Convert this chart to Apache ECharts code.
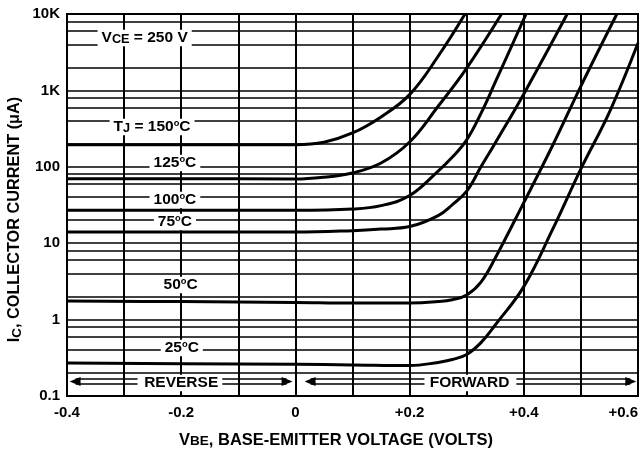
<!DOCTYPE html>
<html><head><meta charset="utf-8">
<script src="https://cdn.jsdelivr.net/npm/echarts@6/dist/echarts.min.js"></script>
<style>html,body{margin:0;padding:0;background:#fff}#c{width:641px;height:454px}</style>
</head><body><div id="c"></div>
<script>
// ---- data ----
const vbe150 = [-0.4, -0.2, 0, 0.05, 0.1, 0.15, 0.2, 0.25, 0.297];
const ic150  = [195, 195, 195, 210, 277, 450, 880, 2800, 10000];
const vbe125 = [-0.4, -0.2, 0, 0.05, 0.1, 0.15, 0.2, 0.25, 0.3, 0.361];
const ic125  = [70, 70, 69, 73, 83, 112, 211, 620, 1960, 10000];
const vbe100 = [-0.4, -0.2, 0, 0.1, 0.15, 0.2, 0.25, 0.275, 0.3, 0.325, 0.35, 0.404];
const ic100  = [27, 27, 27, 28, 31, 42, 88, 134, 225, 500, 1280, 10000];
const vbe75  = [-0.4, -0.2, 0, 0.1, 0.15, 0.2, 0.25, 0.275, 0.3, 0.325, 0.35, 0.4, 0.476];
const ic75   = [14, 14, 14, 14.6, 15.3, 16.5, 23, 32, 48, 100, 205, 900, 10000];
const vbe50  = [-0.4, -0.2, 0, 0.1, 0.2, 0.25, 0.275, 0.3, 0.325, 0.35, 0.4, 0.45, 0.5, 0.563];
const ic50   = [1.75, 1.72, 1.68, 1.65, 1.65, 1.72, 1.82, 2.1, 3.1, 6.4, 34, 187, 1140, 10000];
const vbe25  = [-0.4, -0.2, 0, 0.1, 0.2, 0.25, 0.275, 0.3, 0.325, 0.35, 0.4, 0.45, 0.5, 0.55, 0.6];
const ic25   = [0.27, 0.265, 0.26, 0.255, 0.25, 0.275, 0.3, 0.35, 0.5, 0.85, 2.7, 14.9, 94, 520, 4170];

const xTickLabels = ['-0.4', '', '-0.2', '', '0', '', '+0.2', '', '+0.4', '', '+0.6'];
const yTickLabels = ['0.1', '1', '10', '100', '1K', '10K'];
const minorMultipliers = [2, 4, 6, 8];
const decades = [0.1, 1, 10, 100, 1000];

// annotation texts and their anchor in data space [VBE, IC]
const noteTexts = ['{n|V}{b|CE}{n| = 250 V}', '{n|T}{b|J}{n| = 150}{p|o}{n|C}', '{n|125}{p|o}{n|C}',
  '{n|100}{p|o}{n|C}', '{n|75}{p|o}{n|C}', '{n|50}{p|o}{n|C}', '{n|25}{p|o}{n|C}', '{n|REVERSE}', '{n|FORWARD}'];
const noteX = [-0.264, -0.251, -0.211, -0.211, -0.211, -0.201, -0.199, -0.200, 0.305];
const noteY = [4850, 332, 112, 36.7, 18.9, 2.84, 0.425, 0.148, 0.148];
const arrowLevel = 0.155;
const arrowTail = [-0.2765, -0.128, 0.226, 0.387];
const arrowHead = [-0.3955, -0.005, 0.016, 0.597];

// ---- fonts ----
function hasFont(n) {
  const c = document.createElement('canvas').getContext('2d');
  const t = 'REVERSE FORWARD 0123456789';
  c.font = 'bold 20px monospace'; const a = c.measureText(t).width;
  c.font = 'bold 20px "' + n + '", monospace'; const b = c.measureText(t).width;
  return Math.abs(a - b) > 0.5;
}
const NARROW = hasFont('Liberation Sans Narrow');
const AF = NARROW ? '"Liberation Sans Narrow"' : '"Liberation Sans", Arial, sans-serif';
const AS = NARROW ? 18.5 : 15.5;
const TF = '"Liberation Sans", Arial, sans-serif';

function rich(fam, fs) {
  return {
    n: {fontFamily: fam, fontWeight: 'bold', fontSize: fs, lineHeight: fs + 1, color: '#000', verticalAlign: 'middle'},
    b: {fontFamily: fam, fontWeight: 'bold', fontSize: fs * 0.82, lineHeight: fs + 1 - 7.5, color: '#000', verticalAlign: 'bottom'},
    p: {fontFamily: fam, fontWeight: 'bold', fontSize: fs * 0.6, lineHeight: fs + 1 - 10.5, color: '#000', verticalAlign: 'top'}
  };
}

const chart = echarts.init(document.getElementById('c'), null, {renderer: 'canvas'});

const curves = [[vbe150, ic150], [vbe125, ic125], [vbe100, ic100], [vbe75, ic75], [vbe50, ic50], [vbe25, ic25]];
const minorVals = [];
decades.forEach(d => minorMultipliers.forEach(m => minorVals.push(d * m)));

const series = curves.map(([vx, vy]) => ({
  type: 'line', data: vx.map((v, i) => [v, vy[i]]), showSymbol: false, smooth: 0.4,
  lineStyle: {color: '#000', width: 3}, z: 10, silent: true, clip: true
}));
series.push({
  type: 'line', data: [], z: 3, silent: true,
  markLine: {silent: true, symbol: 'none', label: {show: false}, animation: false,
    lineStyle: {color: '#000', width: 1.6, type: 'solid'},
    data: minorVals.map(v => ({yAxis: v}))}
});

chart.setOption({
  animation: false,
  grid: {left: 67, right: 3, top: 14, bottom: 58, show: true, borderColor: '#000', borderWidth: 2},
  xAxis: {
    type: 'value', min: -0.4, max: 0.6, interval: 0.1,
    axisLine: {show: true, lineStyle: {color: '#000', width: 2}},
    axisTick: {show: false},
    splitLine: {show: true, lineStyle: {color: '#000', width: 2}},
    axisLabel: {color: '#000', fontFamily: TF, fontWeight: 'bold', fontSize: 15, margin: 9, interval: 0,
      alignMaxLabel: 'right',
      formatter: v => xTickLabels[Math.round((v + 0.4) * 10)] || ''}
  },
  yAxis: {
    type: 'log', logBase: 10, min: 0.1, max: 10000,
    axisLine: {show: true, lineStyle: {color: '#000', width: 2}},
    axisTick: {show: false},
    splitLine: {show: true, lineStyle: {color: '#000', width: 1.6}},
    axisLabel: {color: '#000', fontFamily: TF, fontWeight: 'bold', fontSize: 15, margin: 7,
      formatter: v => yTickLabels[Math.round(Math.log10(v)) + 1] || ''}
  },
  series: series
});

function px(v, y) { return chart.convertToPixel({gridIndex: 0}, [v, y]); }

const g = [];
noteTexts.forEach((t, i) => {
  const p = px(noteX[i], noteY[i]);
  g.push({type: 'text', x: p[0], y: p[1], z: 5, silent: true,
    style: {text: t, rich: rich(AF, AS), align: 'center', verticalAlign: 'middle',
      backgroundColor: '#fff', padding: [0, 4]}});
});
arrowTail.forEach((t, i) => {
  const a = px(t, arrowLevel), b = px(arrowHead[i], arrowLevel);
  const dir = Math.sign(b[0] - a[0]);
  const y = a[1];
  [-2.5, 2.5].forEach(o => g.push({type: 'line', z: 6, silent: true,
    shape: {x1: a[0], y1: y + o, x2: b[0] - dir * 6, y2: y + o}, style: {stroke: '#000', lineWidth: 1.6}}));
  g.push({type: 'polygon', z: 6, silent: true,
    shape: {points: [[b[0], y], [b[0] - dir * 11, y - 4.5], [b[0] - dir * 11, y + 4.5]]}, style: {fill: '#000'}});
});
// axis titles
g.push({type: 'text', x: 336, y: 440, z: 5, silent: true,
  style: {text: '{n|V}{b|BE}{n|, BASE-EMITTER VOLTAGE (VOLTS)}', rich: rich(TF, 16.5), align: 'center', verticalAlign: 'middle'}});
g.push({type: 'text', x: 15, y: 219.5, z: 5, rotation: Math.PI / 2, silent: true,
  style: {text: '{n|I}{b|C}{n|, COLLECTOR CURRENT (μA)}', rich: rich(TF, 16.3), align: 'center', verticalAlign: 'middle'}});

chart.setOption({graphic: {elements: g}});
</script></body></html>
